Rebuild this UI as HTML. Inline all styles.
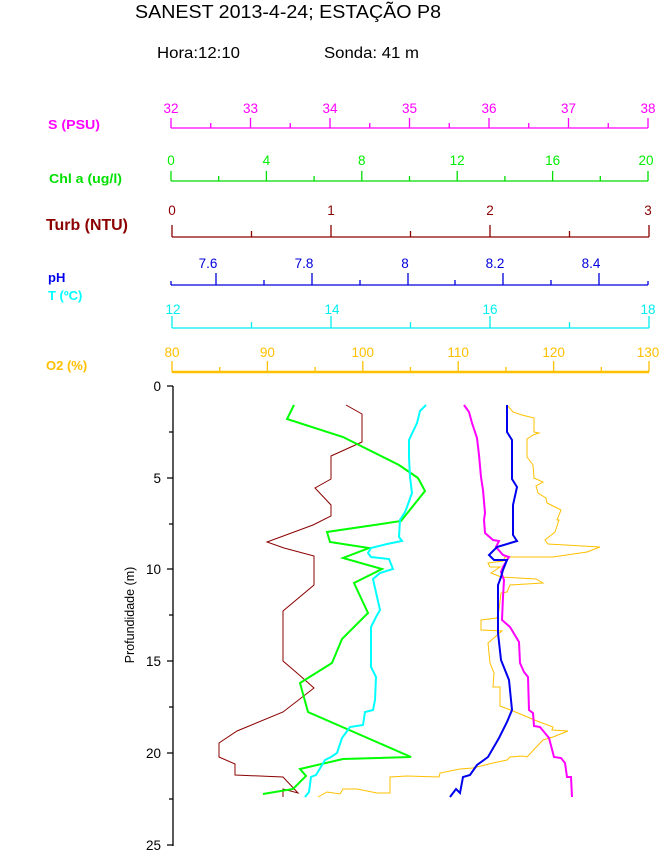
<!DOCTYPE html>
<html><head><meta charset="utf-8"><style>
html,body{margin:0;padding:0;background:#fff;}
svg{display:block;font-family:"Liberation Sans",Arial,sans-serif;}
</style></head><body>
<svg width="660" height="854" viewBox="0 0 660 854" xmlns="http://www.w3.org/2000/svg">
<text x="135" y="18" font-size="18.5" fill="#000" textLength="306" lengthAdjust="spacingAndGlyphs">SANEST 2013-4-24; ESTAÇÃO P8</text>
<text x="157" y="58" font-size="15.5" fill="#000" textLength="83" lengthAdjust="spacingAndGlyphs">Hora:12:10</text>
<text x="324" y="58" font-size="15.5" fill="#000" textLength="95" lengthAdjust="spacingAndGlyphs">Sonda: 41 m</text>

<!-- S -->
<text x="48" y="129" font-size="13" font-weight="bold" fill="#ff00ff" textLength="52" lengthAdjust="spacingAndGlyphs">S (PSU)</text>
<g stroke="#ff00ff" stroke-width="1.3" fill="none">
<line x1="171" y1="128" x2="648" y2="128"/>
<path d="M171 128v-10M250.5 128v-10M330 128v-10M409.5 128v-10M489 128v-10M568.5 128v-10M648 128v-10M210.75 128v-5M290.25 128v-5M369.75 128v-5M449.25 128v-5M528.75 128v-5M608.25 128v-5"/>
</g>
<g font-size="13.5" fill="#ff00ff" text-anchor="middle">
<text x="171" y="113">32</text><text x="250.5" y="113">33</text><text x="330" y="113">34</text><text x="409.5" y="113">35</text><text x="489" y="113">36</text><text x="568.5" y="113">37</text><text x="648" y="113">38</text></g>

<!-- Chl -->
<text x="49" y="183" font-size="13" font-weight="bold" fill="#00e000" textLength="73" lengthAdjust="spacingAndGlyphs">Chl a (ug/l)</text>
<g stroke="#00dd00" stroke-width="1.3" fill="none">
<line x1="171" y1="181" x2="648" y2="181"/>
<path d="M171 181v-10M266.4 181v-10M361.8 181v-10M457.2 181v-10M552.6 181v-10M648 181v-10M218.7 181v-5M314.1 181v-5M409.5 181v-5M504.9 181v-5M600.3 181v-5"/>
</g>
<g font-size="13.5" fill="#00ee00" text-anchor="middle">
<text x="171" y="165">0</text><text x="266.4" y="165">4</text><text x="361.8" y="165">8</text><text x="457.2" y="165">12</text><text x="552.6" y="165">16</text><text x="646" y="165">20</text></g>

<!-- Turb -->
<text x="46" y="230" font-size="15.5" font-weight="bold" fill="#8b0000" textLength="82" lengthAdjust="spacingAndGlyphs">Turb (NTU)</text>
<g stroke="#8b0000" stroke-width="1.3" fill="none">
<line x1="172" y1="237" x2="649" y2="237"/>
<path d="M172 237v-12M331 237v-12M490 237v-12M649 237v-12M251.5 237v-6M410.5 237v-6M569.5 237v-6"/>
</g>
<g font-size="13.5" fill="#8b0000" text-anchor="middle">
<text x="172" y="215">0</text><text x="331" y="215">1</text><text x="490" y="215">2</text><text x="648" y="215">3</text></g>

<!-- pH -->
<text x="48" y="282" font-size="13" font-weight="bold" fill="#0000ee">pH</text>
<g stroke="#0000dd" stroke-width="1.3" fill="none">
<line x1="171" y1="285" x2="648" y2="285"/>
<path d="M216 285v-12M312 285v-12M408 285v-12M503 285v-12M599 285v-12M264 285v-5M360 285v-5M455 285v-5M551 285v-5M171 285v-4M648 285v-4"/>
</g>
<g font-size="13.5" fill="#0000dd" text-anchor="middle">
<text x="208" y="268">7.6</text><text x="304" y="268">7.8</text><text x="405" y="268">8</text><text x="495" y="268">8.2</text><text x="591" y="268">8.4</text></g>

<!-- T -->
<text x="48" y="300" font-size="13" font-weight="bold" fill="#00ffff">T (ºC)</text>
<g stroke="#00eeee" stroke-width="1.3" fill="none">
<line x1="172" y1="328" x2="649" y2="328"/>
<path d="M172 328v-12M331 328v-12M490 328v-12M649 328v-12M251.5 328v-6M410.5 328v-6M569.5 328v-6"/>
</g>
<g font-size="13.5" fill="#00eeee" text-anchor="middle">
<text x="173" y="314">12</text><text x="332" y="314">14</text><text x="490" y="314">16</text><text x="648" y="314">18</text></g>

<!-- O2 -->
<text x="46" y="370" font-size="13" font-weight="bold" fill="#ffc000">O2 (%)</text>
<g stroke="#ffc000" fill="none">
<line x1="172" y1="372" x2="649" y2="372" stroke-width="2.5"/>
<path stroke-width="1.3" d="M172 372v-11M267.4 372v-11M362.8 372v-11M458.2 372v-11M553.6 372v-11M649 372v-11M219.7 372v-5M315.1 372v-5M410.5 372v-5M505.9 372v-5M601.3 372v-5"/>
</g>
<g font-size="13.5" fill="#ffc000" text-anchor="middle">
<text x="172" y="357">80</text><text x="267.4" y="357">90</text><text x="362.8" y="357">100</text><text x="458.2" y="357">110</text><text x="553.6" y="357">120</text><text x="648" y="357">130</text></g>

<!-- depth axis -->
<g stroke="#000" stroke-width="1.3" fill="none">
<line x1="173" y1="386" x2="173" y2="846"/>
<path d="M167 386h6M167 478h6M167 569h6M167 661h6M167 753h6M167 845h6M169 432h4M169 524h4M169 615h4M169 707h4M169 799h4"/>
</g>
<g font-size="13.5" fill="#000" text-anchor="end">
<text x="161" y="391">0</text><text x="161" y="483">5</text><text x="161" y="574">10</text><text x="161" y="666">15</text><text x="161" y="758">20</text><text x="161" y="850">25</text></g>
<text transform="translate(134,615) rotate(-90)" font-size="12.5" text-anchor="middle" fill="#000">Profundidade (m)</text>

<!-- series -->
<polyline fill="none" stroke="#ffc000" stroke-width="1" points="507,405 513,412 522,415 534,418 534,432 539,433 533,435 527,439 527,457 533,465 534,478 543,482 536,486 538,493 546,498 547,503 555,507 561,510 557,520 559,520 555,532 545,540 548,544 600,547 587,552 553,557 505,557 503,561 488,563 490,567 500,567 491,573 501,577 536,579 543,583 510,585 507,592 501,593 499,610 497,618 481,620 481,630 502,631 488,643 490,663 494,673 493,687 500,687 500,706 513,711 537,721 553,727 552,730 568,731 553,737 543,740 527,757 522,756 510,757 507,760 493,763 473,768 460,769 440,773 439,777 407,776 390,777 390,793 377,793 357,789 343,789 340,794 327,792 318,797"/>
<polyline fill="none" stroke="#8b0000" stroke-width="1" points="346,405 362,414 362,442 331,456 331,479 315,488 331,505 331,516 313,525 267,542 284,548 314,556 314,585 283,611 283,661 297,673 314,688 283,712 237,731 219,743 219,757 235,764 235,775 283,777 298,793 283,789 283,797"/>
<polyline fill="none" stroke="#00ff00" stroke-width="2" points="294,405 287,419 343,437 399,465 418,478 425,491 401,521 327,532 330,542 369,548 343,558 382,569 354,583 368,613 342,639 332,663 300,683 308,712 411,757 343,759 300,769 306,776 293,789 263,794"/>
<polyline fill="none" stroke="#00ffff" stroke-width="2" points="426,405 420,411 417,423 409,440 409,457 410,477 412,493 407,507 405,512 400,520 399,537 402,541 387,544 371,548 368,553 371,557 389,559 393,569 380,573 373,579 380,610 376,617 371,627 371,667 376,677 375,700 373,710 365,712 363,725 350,727 342,738 337,753 331,757 325,760 316,775 311,777 309,792 305,797"/>
<polyline fill="none" stroke="#ff00ff" stroke-width="2" points="464,405 469,412 472,423 477,438 479,455 481,477 483,490 485,513 484,520 485,533 493,540 499,541 496,547 503,555 509,557 507,560 503,567 501,572 504,580 503,597 502,620 510,627 519,642 520,663 524,672 528,677 529,710 533,713 534,726 540,727 549,738 554,757 561,758 565,763 567,777 571,777 572,797"/>
<polyline fill="none" stroke="#0000ee" stroke-width="2" points="507,405 507,432 512,440 512,479 517,487 513,505 513,535 517,541 497,547 489,555 494,560 507,560 503,570 501,577 498,585 498,633 501,660 509,680 512,710 507,722 499,738 488,757 477,765 470,775 463,777 460,793 456,789 450,797"/>
</svg>
</body></html>
